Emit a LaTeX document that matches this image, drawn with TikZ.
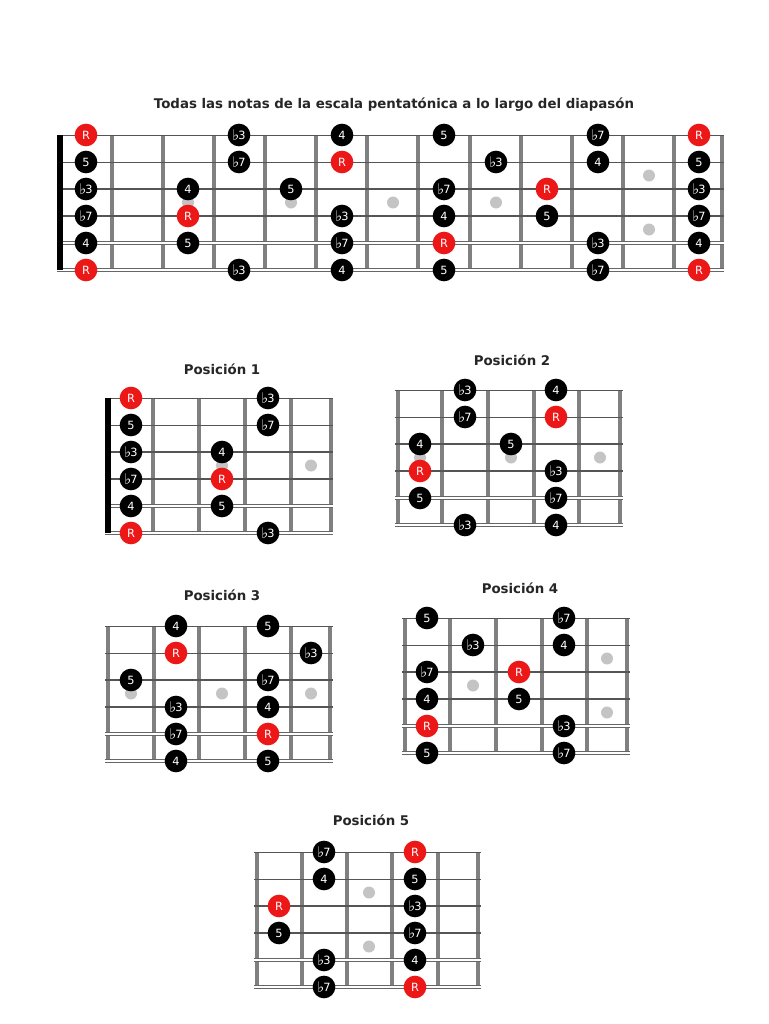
\documentclass[tikz,border=0pt]{standalone}
\usepackage{fontspec}
\setmainfont{DejaVu Sans}
\usetikzlibrary{calc}
\definecolor{fretgray}{RGB}{128,128,128}
\definecolor{strgray}{RGB}{85,85,85}
\definecolor{notered}{RGB}{236,24,24}
\definecolor{dotgray}{RGB}{196,196,196}
\newcommand\bfl{{\fontsize{11}{9}\selectfont\raisebox{-0.3pt}{♭}}\kern-0.6pt}
\tikzset{
  fret/.style={draw=fretgray, line width=3pt},
  nutbar/.style={draw=black, line width=3.8pt},
  str1/.style={draw=strgray, line width=0.6pt},
  str2/.style={draw=strgray, line width=0.7pt},
  str3/.style={draw=strgray, line width=0.9pt},
  str4/.style={draw=strgray, line width=1.1pt},
  strw/.style={draw=strgray!90, line width=0.7pt, double=white, double distance=1.1pt},
  note/.style={circle, fill=black, text=white, minimum size=17pt, inner sep=0pt, font=\fontsize{8.5}{8.5}\selectfont},
  rnote/.style={note, fill=notered},
  fmark/.style={circle, fill=dotgray, minimum size=9pt, inner sep=0pt},
  ttl/.style={font=\bfseries\fontsize{10}{12}\selectfont, text=black!85, inner sep=0pt}
}
% #1 prefix, #2 frets, #3 cell centres, #4 top string y, #5 string start x, #6 string end x
\newcommand\fboard[6]{%
  \foreach \fx in {#2} \draw[fret] (\fx,#4) -- (\fx,{#4+135});
  \foreach \cx [count=\ci from 0] in {#3} \coordinate (#1c\ci) at (\cx,#4);
  \foreach \k in {1,...,6} \coordinate (#1s\k) at (#5,{#4+27*(\k-1)});
  \draw[str1] (#5,#4) -- (#6,#4);
  \draw[str2] (#5,{#4+27}) -- (#6,{#4+27});
  \draw[str3] (#5,{#4+54}) -- (#6,{#4+54});
  \draw[str4] (#5,{#4+81}) -- (#6,{#4+81});
  \draw[strw] (#5,{#4+108}) -- (#6,{#4+108});
  \draw[strw] (#5,{#4+135}) -- (#6,{#4+135});
}
\newcommand\nb[4]{\node[note] (#1n#2s#3) at (#1c#2 |- #1s#3) {#4};}
\newcommand\nr[3]{\node[rnote] (#1n#2s#3) at (#1c#2 |- #1s#3) {R};}
\newcommand\dt[3]{\node[fmark] (#1d#2#3) at ($(#1c#2)+(0,#3)$) {};}
\begin{document}
\begin{tikzpicture}[x=0.75pt,y=-0.75pt]
\useasboundingbox[fill=white] (0,0) rectangle (768,1024);

% ---------------- titles
\node[ttl] (title) at (394,105) {Todas las notas de la escala pentatónica a lo largo del diapasón};
\node[ttl] (ta) at (222,369) {Posición 1};
\node[ttl] (tb) at (512,360) {Posición 2};
\node[ttl] (tc) at (222,595) {Posición 3};
\node[ttl] (td) at (520,588) {Posición 4};
\node[ttl] (te) at (371,820) {Posición 5};

% ---------------- full neck
\fboard{t}{112,163,214,265,316,367,418,470,521,572,623,674,722}{86,137,188,239,291,342,393,444,496,547,598,649,699}{135}{57}{724}
\draw[nutbar] (60,135) -- (60,270);
\dt{t}{2}{67.5}\dt{t}{4}{67.5}\dt{t}{6}{67.5}\dt{t}{8}{67.5}
\dt{t}{11}{40.5}\dt{t}{11}{94.5}
\nr{t}{0}{1}\nb{t}{3}{1}{\bfl3}\nb{t}{5}{1}{4}\nb{t}{7}{1}{5}\nb{t}{10}{1}{\bfl7}\nr{t}{12}{1}
\nb{t}{0}{2}{5}\nb{t}{3}{2}{\bfl7}\nr{t}{5}{2}\nb{t}{8}{2}{\bfl3}\nb{t}{10}{2}{4}\nb{t}{12}{2}{5}
\nb{t}{0}{3}{\bfl3}\nb{t}{2}{3}{4}\nb{t}{4}{3}{5}\nb{t}{7}{3}{\bfl7}\nr{t}{9}{3}\nb{t}{12}{3}{\bfl3}
\nb{t}{0}{4}{\bfl7}\nr{t}{2}{4}\nb{t}{5}{4}{\bfl3}\nb{t}{7}{4}{4}\nb{t}{9}{4}{5}\nb{t}{12}{4}{\bfl7}
\nb{t}{0}{5}{4}\nb{t}{2}{5}{5}\nb{t}{5}{5}{\bfl7}\nr{t}{7}{5}\nb{t}{10}{5}{\bfl3}\nb{t}{12}{5}{4}
\nr{t}{0}{6}\nb{t}{3}{6}{\bfl3}\nb{t}{5}{6}{4}\nb{t}{7}{6}{5}\nb{t}{10}{6}{\bfl7}\nr{t}{12}{6}

% ---------------- Posicion 1
\fboard{a}{153,199,245,291,331}{131,176,222,268,311}{398}{105}{333}
\draw[nutbar] (108,398) -- (108,533);
\dt{a}{2}{67.5}\dt{a}{4}{67.5}
\nr{a}{0}{1}\nb{a}{3}{1}{\bfl3}
\nb{a}{0}{2}{5}\nb{a}{3}{2}{\bfl7}
\nb{a}{0}{3}{\bfl3}\nb{a}{2}{3}{4}
\nb{a}{0}{4}{\bfl7}\nr{a}{2}{4}
\nb{a}{0}{5}{4}\nb{a}{2}{5}{5}
\nr{a}{0}{6}\nb{a}{3}{6}{\bfl3}

% ---------------- Posicion 2
\fboard{b}{398,442,488,534,579,620}{420,465,511,556,600}{390}{395}{623}
\dt{b}{0}{67.5}\dt{b}{2}{67.5}\dt{b}{4}{67.5}
\nb{b}{1}{1}{\bfl3}\nb{b}{3}{1}{4}
\nb{b}{1}{2}{\bfl7}\nr{b}{3}{2}
\nb{b}{0}{3}{4}\nb{b}{2}{3}{5}
\nr{b}{0}{4}\nb{b}{3}{4}{\bfl3}
\nb{b}{0}{5}{5}\nb{b}{3}{5}{\bfl7}
\nb{b}{1}{6}{\bfl3}\nb{b}{3}{6}{4}

% ---------------- Posicion 3
\fboard{c}{108,154,199,245,291,330}{131,176,222,268,311}{626}{105}{333}
\dt{c}{0}{67.5}\dt{c}{2}{67.5}\dt{c}{4}{67.5}
\nb{c}{1}{1}{4}\nb{c}{3}{1}{5}
\nr{c}{1}{2}\nb{c}{4}{2}{\bfl3}
\nb{c}{0}{3}{5}\nb{c}{3}{3}{\bfl7}
\nb{c}{1}{4}{\bfl3}\nb{c}{3}{4}{4}
\nb{c}{1}{5}{\bfl7}\nr{c}{3}{5}
\nb{c}{1}{6}{4}\nb{c}{3}{6}{5}

% ---------------- Posicion 4
\fboard{d}{405,450,496,542,587,627}{427,473,519,564,607}{618}{402}{630}
\dt{d}{1}{67.5}\dt{d}{4}{40.5}\dt{d}{4}{94.5}
\nb{d}{0}{1}{5}\nb{d}{3}{1}{\bfl7}
\nb{d}{1}{2}{\bfl3}\nb{d}{3}{2}{4}
\nb{d}{0}{3}{\bfl7}\nr{d}{2}{3}
\nb{d}{0}{4}{4}\nb{d}{2}{4}{5}
\nr{d}{0}{5}\nb{d}{3}{5}{\bfl3}
\nb{d}{0}{6}{5}\nb{d}{3}{6}{\bfl7}

% ---------------- Posicion 5
\fboard{e}{257,302,347,392,438,478}{279,324,369,415,458}{852}{254}{481}
\dt{e}{2}{40.5}\dt{e}{2}{94.5}
\nb{e}{1}{1}{\bfl7}\nr{e}{3}{1}
\nb{e}{1}{2}{4}\nb{e}{3}{2}{5}
\nr{e}{0}{3}\nb{e}{3}{3}{\bfl3}
\nb{e}{0}{4}{5}\nb{e}{3}{4}{\bfl7}
\nb{e}{1}{5}{\bfl3}\nb{e}{3}{5}{4}
\nb{e}{1}{6}{\bfl7}\nr{e}{3}{6}
\end{tikzpicture}
\end{document}
